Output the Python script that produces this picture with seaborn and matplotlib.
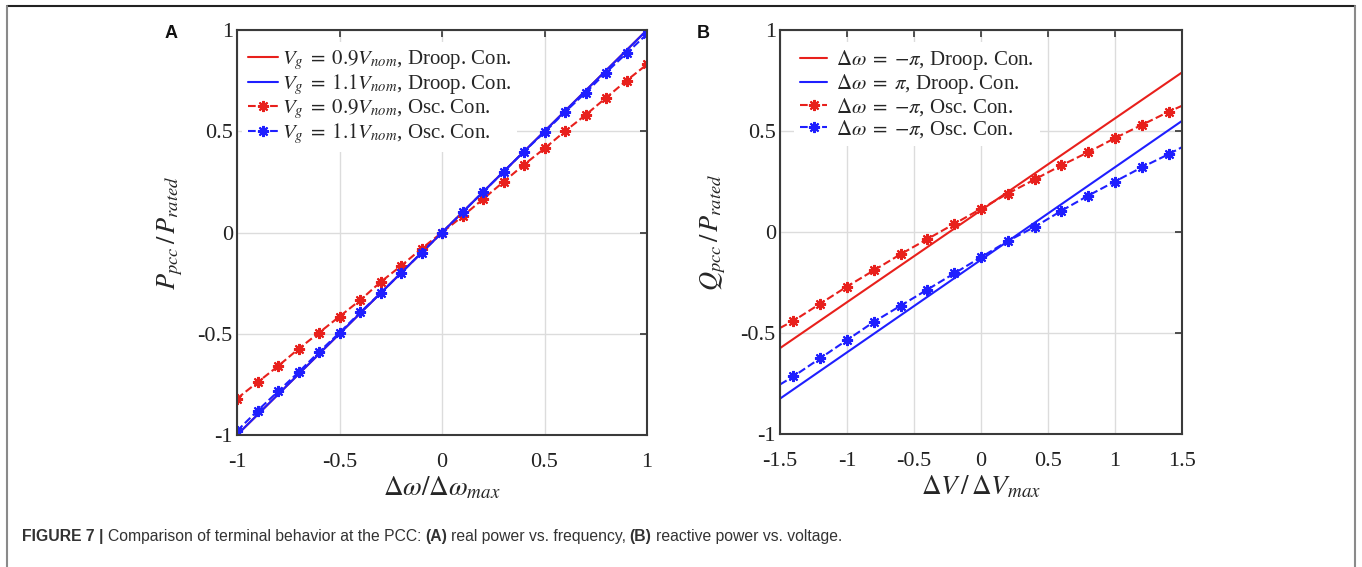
import numpy as np
import pandas as pd
import matplotlib
matplotlib.use('Agg')
import matplotlib.pyplot as plt
import seaborn as sns
from matplotlib.lines import Line2D

sns.set_theme(style='white')
plt.rcParams['font.family'] = ['Liberation Serif', 'DejaVu Serif']
plt.rcParams['mathtext.fontset'] = 'stix'
plt.rcParams['axes.unicode_minus'] = False

#%% data, panel A (real power vs frequency)
w_droop = [-1.0, 1.0]
p_droop_09 = [-1.0, 1.0]
p_droop_11 = [-1.0, 1.0]
w_osc = [-1.0, -0.9, -0.8, -0.7, -0.6, -0.5, -0.4, -0.3, -0.2, -0.1, 0.0,
         0.1, 0.2, 0.3, 0.4, 0.5, 0.6, 0.7, 0.8, 0.9, 1.0]
p_osc_09 = [-0.82, -0.74, -0.66, -0.575, -0.495, -0.415, -0.335, -0.245, -0.165, -0.08, 0.0,
            0.08, 0.165, 0.25, 0.335, 0.415, 0.50, 0.58, 0.665, 0.75, 0.83]
p_osc_11 = [-0.98, -0.88, -0.785, -0.69, -0.59, -0.495, -0.395, -0.30, -0.20, -0.10, 0.0,
            0.10, 0.20, 0.30, 0.40, 0.495, 0.595, 0.69, 0.79, 0.885, 0.98]

#%% data, panel B (reactive power vs voltage)
v_droop = [-1.5, 1.5]
q_droop_neg = [-0.575, 0.79]
q_droop_pos = [-0.825, 0.55]
v_osc = [-1.5, -1.4, -1.2, -1.0, -0.8, -0.6, -0.4, -0.2, 0.0,
         0.2, 0.4, 0.6, 0.8, 1.0, 1.2, 1.4, 1.5]
q_osc_red = [-0.475, -0.44, -0.355, -0.27, -0.19, -0.11, -0.035, 0.04, 0.115,
             0.19, 0.26, 0.33, 0.395, 0.465, 0.53, 0.595, 0.625]
q_osc_blue = [-0.755, -0.715, -0.625, -0.535, -0.445, -0.365, -0.285, -0.205, -0.125,
              -0.045, 0.025, 0.105, 0.18, 0.25, 0.32, 0.385, 0.42]

legend_a = [r'$V_g\;=\;0.9V_{nom}$, Droop. Con.',
            r'$V_g\;=\;1.1V_{nom}$, Droop. Con.',
            r'$V_g\;=\;0.9V_{nom}$, Osc. Con.',
            r'$V_g\;=\;1.1V_{nom}$, Osc. Con.']
legend_b = [r'$\Delta\omega\;=\;{-}\pi$, Droop. Con.',
            r'$\Delta\omega\;=\;\pi$, Droop. Con.',
            r'$\Delta\omega\;=\;{-}\pi$, Osc. Con.',
            r'$\Delta\omega\;=\;{-}\pi$, Osc. Con.']

RED = '#e8201c'
BLUE = '#1f1fff'
star = (8, 2, 0)

fig = plt.figure(figsize=(13.62, 5.67), dpi=100)
axA = fig.add_axes([237/1362, 1-435/567, 410/1362, 405/567])
axB = fig.add_axes([780/1362, 1-434/567, 402/1362, 404/567])

def style_ax(ax):
    ax.grid(True, color='#dcdcdc', lw=1)
    ax.set_axisbelow(True)
    for s in ax.spines.values():
        s.set_color('#3a3a3a')
        s.set_linewidth(1.5)
    ax.tick_params(direction='in', top=True, right=True, length=5, width=1.2,
                   color='#333333', labelsize=16, labelcolor='#222222')
    ax.tick_params(axis='y', pad=3)
    ax.tick_params(axis='x', pad=13)

# panel A
sns.lineplot(x=w_droop, y=p_droop_09, ax=axA, color=RED, lw=1.5, label=legend_a[0],
             estimator=None, sort=False)
sns.lineplot(x=w_droop, y=p_droop_11, ax=axA, color=BLUE, lw=1.5, label=legend_a[1],
             estimator=None, sort=False)
sns.lineplot(x=w_osc, y=p_osc_09, ax=axA, color=RED, lw=1.5, ls='--', marker=star,
             ms=8, mew=1.5, mec=RED, label=legend_a[2], estimator=None, sort=False)
sns.lineplot(x=w_osc, y=p_osc_11, ax=axA, color=BLUE, lw=1.5, ls='--', marker=star,
             ms=8, mew=1.5, mec=BLUE, label=legend_a[3], estimator=None, sort=False)
axA.set_xlim(-1, 1)
axA.set_ylim(-1, 1)
axA.set_xticks([-1, -0.5, 0, 0.5, 1])
axA.set_xticklabels(['-1', '-0.5', '0', '0.5', '1'])
axA.set_yticks([-1, -0.5, 0, 0.5, 1])
axA.set_yticklabels(['-1', '-0.5', '0', '0.5', '1'])
axA.set_xlabel(r'$\Delta\omega/\Delta\omega_{max}$', fontsize=19.5, labelpad=2)
axA.set_ylabel(r'$P_{pcc}\,/\,P_{rated}$', fontsize=19, labelpad=9)
style_ax(axA)

# panel B
mk = list(range(1, len(v_osc) - 1))
sns.lineplot(x=v_droop, y=q_droop_neg, ax=axB, color=RED, lw=1.5, label=legend_b[0],
             estimator=None, sort=False)
sns.lineplot(x=v_droop, y=q_droop_pos, ax=axB, color=BLUE, lw=1.5, label=legend_b[1],
             estimator=None, sort=False)
sns.lineplot(x=v_osc, y=q_osc_red, ax=axB, color=RED, lw=1.5, ls='--', marker=star,
             ms=8, mew=1.5, mec=RED, markevery=mk, label=legend_b[2],
             estimator=None, sort=False)
sns.lineplot(x=v_osc, y=q_osc_blue, ax=axB, color=BLUE, lw=1.5, ls='--', marker=star,
             ms=8, mew=1.5, mec=BLUE, markevery=mk, label=legend_b[3],
             estimator=None, sort=False)
axB.set_xlim(-1.5, 1.5)
axB.set_ylim(-1, 1)
axB.set_xticks([-1.5, -1, -0.5, 0, 0.5, 1, 1.5])
axB.set_xticklabels(['-1.5', '-1', '-0.5', '0', '0.5', '1', '1.5'])
axB.set_yticks([-1, -0.5, 0, 0.5, 1])
axB.set_yticklabels(['-1', '-0.5', '0', '0.5', '1'])
axB.set_xlabel(r'$\Delta V\,/\,\Delta V_{max}$', fontsize=19.5, labelpad=2)
axB.set_ylabel(r'$Q_{pcc}\,/\,P_{rated}$', fontsize=19, labelpad=9)
style_ax(axB)

axA.legend(loc='upper left', bbox_to_anchor=(5/410, 1-12/405), fontsize=15,
           frameon=True, facecolor='white', edgecolor='none', framealpha=1,
           handlelength=1.45, handletextpad=0.15, labelspacing=0.0, borderpad=0.3,
           borderaxespad=0, fancybox=False)
axB.legend(loc='upper left', bbox_to_anchor=(14/402, 1-12/404), fontsize=15,
           frameon=True, facecolor='white', edgecolor='none', framealpha=1,
           handlelength=1.3, handletextpad=0.4, labelspacing=0.0, borderpad=0.3,
           borderaxespad=0, fancybox=False)

# panel letters
sans = ['Liberation Sans', 'DejaVu Sans']
fig.text(171/1362, 1-34/567, 'A', fontsize=13, fontweight='bold', family=sans,
         ha='center', va='center', color='#111111')
fig.text(703/1362, 1-34/567, 'B', fontsize=13, fontweight='bold', family=sans,
         ha='center', va='center', color='#111111')

# frame around figure
fig.add_artist(Line2D([7/1362, 1355/1362], [1-6/567, 1-6/567], color='#222222', lw=1.5))
fig.add_artist(Line2D([7/1362, 7/1362], [0, 1-6/567], color='#8a8a8a', lw=1.5))
fig.add_artist(Line2D([1355/1362, 1355/1362], [0, 1-6/567], color='#8a8a8a', lw=1.5))

# caption with bold parts
cap_font = ['Liberation Sans Narrow', 'Liberation Sans', 'DejaVu Sans']
pieces = [('FIGURE 7 |', 'bold'), ('Comparison of terminal behavior at the PCC:', 'normal'),
          ('(A)', 'bold'), ('real power vs. frequency,', 'normal'),
          ('(B)', 'bold'), ('reactive power vs. voltage.', 'normal')]
renderer = fig.canvas.get_renderer()
x = 22
for txt, wt in pieces:
    t = fig.text(x/1362, 1-541/567, txt, fontsize=11.3, fontweight=wt, family=cap_font,
                 color='#333333', ha='left', va='baseline')
    bb = t.get_window_extent(renderer)
    x = bb.x1 + 4

fig.savefig('out.png', dpi=100)
